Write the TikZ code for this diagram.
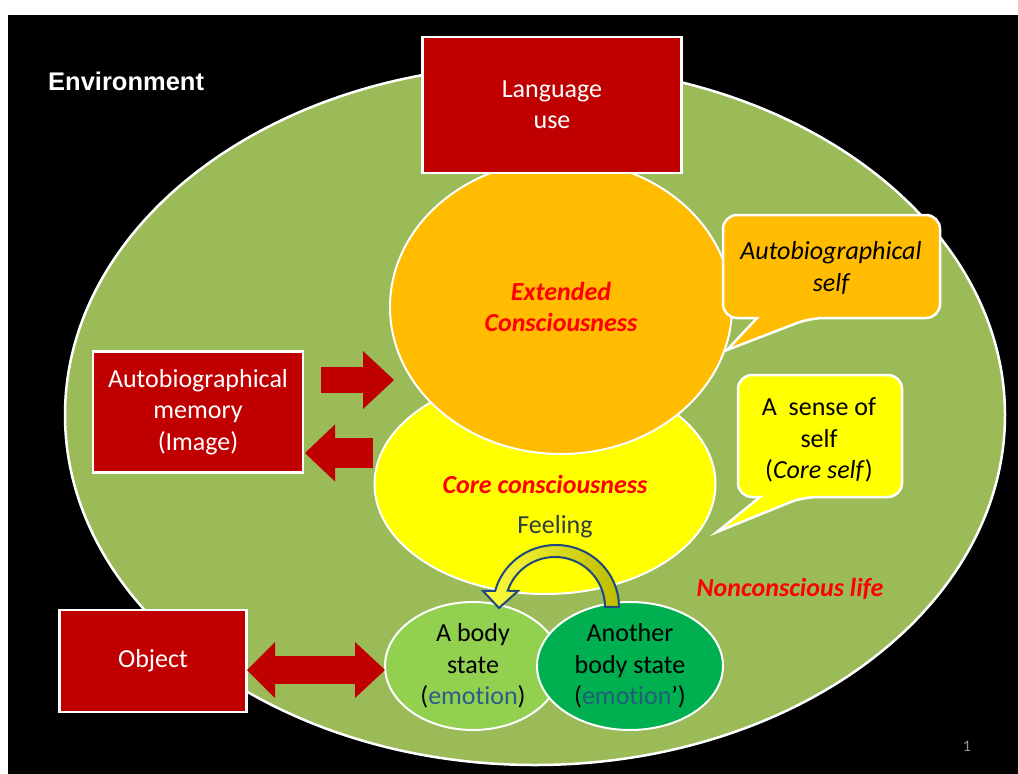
\documentclass[tikz,border=0pt]{standalone}
\usepackage{fontspec}
\setmainfont{Carlito}[Ligatures=NoCommon]
\newfontfamily\arialfont{Liberation Sans}
\usetikzlibrary{shapes.geometric,arrows.meta}
\definecolor{bggreen}{HTML}{9BBB59}
\definecolor{boxred}{HTML}{C00000}
\definecolor{orangec}{HTML}{FFBC00}
\definecolor{yellowc}{HTML}{FFFF00}
\definecolor{lightg}{HTML}{92D050}
\definecolor{darkg}{HTML}{00B050}
\definecolor{emoblue}{HTML}{2E5C8A}
\definecolor{emoteal}{HTML}{1F5F7A}
\definecolor{feelc}{HTML}{2F3F3F}
\definecolor{arrowline}{HTML}{1F497D}
\definecolor{olivec}{HTML}{BDBB00}
\definecolor{brightyel}{HTML}{FFFF40}
\definecolor{pagegray}{HTML}{969696}
\tikzset{
  txt/.style={font=\fontsize{26}{31.5}\selectfont, align=center, inner sep=0pt},
  redital/.style={txt, text=red, font=\fontsize{26}{31.5}\selectfont\bfseries\itshape},
  redbox/.style={txt, draw=white, line width=2.5pt, fill=boxred, text=white},
  oval/.style={ellipse, draw=white, line width=2pt, inner sep=0pt},
  callout/.style={draw=white, line width=2.5pt},
  blockarrow/.style={draw=boxred, line width=#1},
}
\begin{document}
\begin{tikzpicture}[x=1pt,y=-1pt]
\useasboundingbox (0,0) rectangle (1018,774);
\fill[white] (0,0) rectangle (1018,774);
\fill[black] (8,15) rectangle (1018,774);
% environment ellipse
\node[oval, line width=2.5pt, fill=bggreen, minimum width=940pt, minimum height=700pt] (envell) at (535,415) {};
\node[txt, anchor=base west, text=white, font=\arialfont\bfseries\fontsize{25.5}{30}\selectfont] (env) at (48,90) {Environment};
% core and extended consciousness
\node[oval, redital, fill=yellowc, minimum width=341pt, minimum height=220pt] (core) at (545,484) {Core consciousness};
\node[oval, redital, fill=orangec, minimum width=342pt, minimum height=294pt] (ext) at (561,307) {Extended\\Consciousness};
% language box
\node[redbox, minimum width=259pt, minimum height=136pt] (lang) at (552,105) {Language\\use};
% callouts
\draw[callout, fill=orangec] (757,318) [rounded corners=14pt] -- (723,318) -- (723,215) -- (940,215) -- (940,318) -- (810,318) [sharp corners] -- (727,350) -- cycle;
\node[txt, font=\fontsize{26}{31.5}\selectfont\itshape] (autoself) at (831,268) {Autobiographical\\self};
\draw[callout, fill=yellowc] (760,497) [rounded corners=14pt] -- (738,497) -- (738,375) -- (902,375) -- (902,497) -- (803,497) [sharp corners] -- (717,532) -- cycle;
\node[txt] (senseself) at (819,440) {A\ \ sense of\\self\\(\textit{Core self})};
% memory box and arrows
\node[redbox, minimum width=210pt, minimum height=121pt] (mem) at (198,412) {Autobiographical\\memory\\(Image)};
\coordinate (m1) at (321,380);
\coordinate (m2) at (394,380);
\draw[blockarrow=26pt, -{Triangle[length=31pt,width=58pt,line width=0pt]}] (m1) -- (m2);
\coordinate (m3) at (373,453);
\coordinate (m4) at (305,453);
\draw[blockarrow=30pt, -{Triangle[length=30pt,width=57pt,line width=0pt]}] (m3) -- (m4);
% labels
\node[redital] (nonc) at (790,589) {Nonconscious life};
\node[txt, text=feelc] (feel) at (555,527) {Feeling};
% body states
\node[oval, txt, draw=white, line width=2pt, fill=lightg, minimum width=176pt, minimum height=128pt] (bodyA) at (473,666) {A body\\state\\(\textcolor{emoblue}{emotion})};
\node[oval, txt, draw=white, line width=2pt, fill=darkg, minimum width=186pt, minimum height=128pt] (bodyB) at (630,666) {Another\\body state\\(\textcolor{emoteal}{emotion}’)};
% feeling curved arrow
\draw[arrowline, line width=2pt, line join=miter, left color=brightyel, right color=olivec]
  (619,607) arc[start angle=0, end angle=-165, x radius=63, y radius=62]
  -- (483,591) -- (499,608) -- (518,591) -- (507.7,590.7)
  arc[start angle=-161, end angle=0, x radius=50, y radius=50] -- cycle;
% object box and double arrow
\node[redbox, minimum width=187pt, minimum height=102pt] (obj) at (153,661) {Object};
\coordinate (d1) at (247,670);
\coordinate (d2) at (385,670);
\draw[blockarrow=28pt, {Triangle[length=28pt,width=56pt,line width=0pt]}-{Triangle[length=30pt,width=56pt,line width=0pt]}] (d1) -- (d2);
% page number
\node[txt, text=pagegray, font=\fontsize{16}{18}\selectfont] (pg) at (967,746) {1};
\end{tikzpicture}
\end{document}
